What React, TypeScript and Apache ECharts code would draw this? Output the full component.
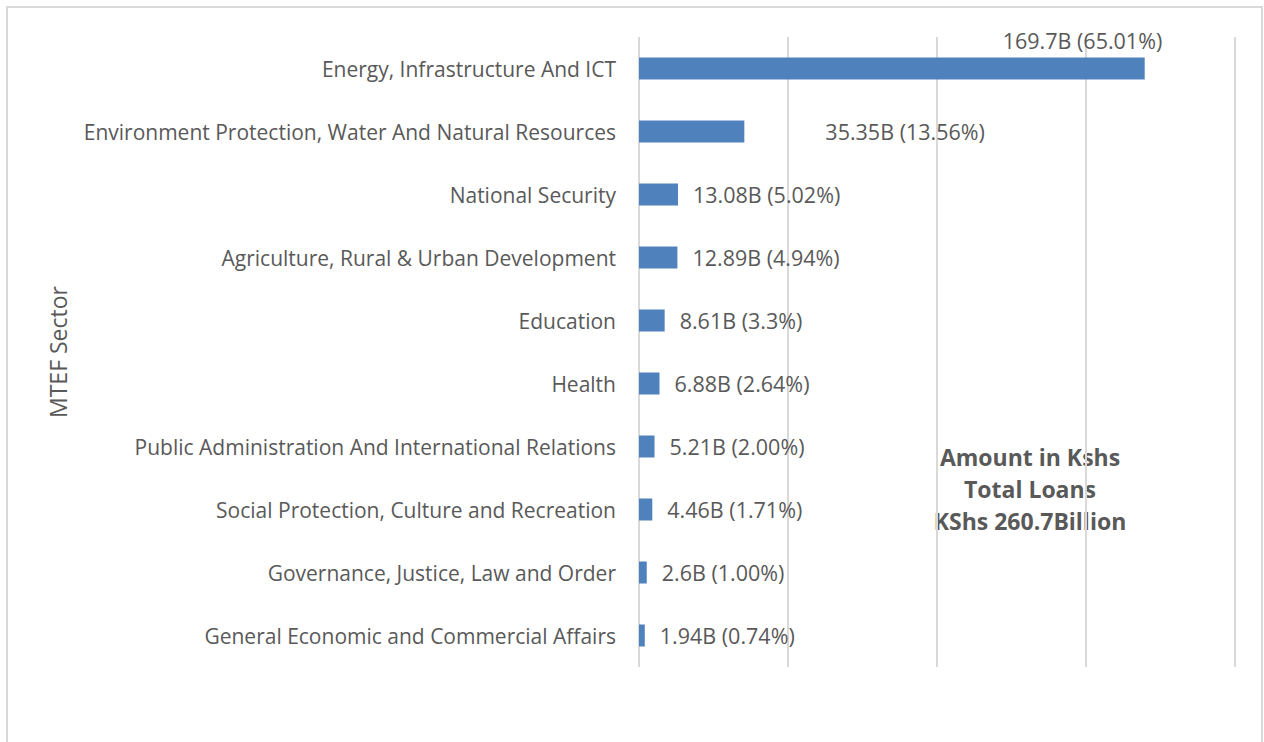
import React, { useEffect, useRef } from "react";
import * as echarts from "echarts";

const categories = [
  "Energy, Infrastructure And ICT",
  "Environment Protection, Water And Natural Resources",
  "National Security",
  "Agriculture, Rural & Urban Development",
  "Education",
  "Health",
  "Public Administration And International Relations",
  "Social Protection, Culture and Recreation",
  "Governance, Justice, Law and Order",
  "General Economic and Commercial Affairs",
];
const values = [169.7, 35.35, 13.08, 12.89, 8.61, 6.88, 5.21, 4.46, 2.6, 1.94];
const percents = ["65.01%", "13.56%", "5.02%", "4.94%", "3.3%", "2.64%", "2.00%", "1.71%", "1.00%", "0.74%"];
const annotationLines = ["Amount in Kshs", "Total Loans", "KShs 260.7Billion"];

const FONT = "'Open Sans', 'Noto Sans', sans-serif";
const GRAY = "#595959";

export default function App() {
  const ref = useRef<HTMLDivElement>(null);
  useEffect(() => {
    if (!ref.current) return;
    const chart = echarts.init(ref.current, undefined, { renderer: "svg" });
    const labelOffsets: Record<number, number[]> = { 0: [-157, -28], 1: [66, 0] };
    const data = values.map((v, i) => ({
      value: v,
      label: labelOffsets[i] ? { offset: labelOffsets[i] } : undefined,
    }));
    chart.setOption({
      animation: false,
      backgroundColor: "#ffffff",
      grid: { left: 639, right: 1264 - 1235, top: 37, bottom: 742 - 667, containLabel: false },
      xAxis: {
        type: "value",
        min: 0,
        max: 200,
        interval: 50,
        axisLabel: { show: false },
        axisLine: { show: false },
        axisTick: { show: false },
        splitLine: { show: true, lineStyle: { color: "#d9d9d9", width: 2 } },
      },
      yAxis: {
        type: "category",
        data: categories,
        inverse: true,
        name: "MTEF Sector",
        nameLocation: "middle",
        nameGap: 570,
        nameRotate: 90,
        nameTextStyle: { fontFamily: FONT, fontSize: 23, color: GRAY },
        axisLine: { show: false },
        axisTick: { show: false },
        axisLabel: { margin: 23, fontFamily: FONT, fontSize: 21, color: GRAY },
      },
      series: [
        {
          type: "bar",
          data,
          barWidth: 22,
          itemStyle: { color: "#4F81BD" },
          label: {
            show: true,
            position: "right",
            distance: 15,
            fontFamily: FONT,
            fontSize: 21.5,
            color: GRAY,
            formatter: (p: any) => `${p.value}B (${percents[p.dataIndex]})`,
          },
        },
      ],
      graphic: [
        {
          type: "rect",
          shape: { x: 7, y: 7, width: 1255, height: 760 },
          style: { fill: "none", stroke: "#d9d9d9", lineWidth: 2 },
          silent: true,
        },
        ...annotationLines.map((t, i) => ({
          type: "text",
          x: 1030,
          y: 457 + i * 32,
          style: {
            text: t,
            fontFamily: FONT,
            fontSize: 23,
            fontWeight: "bold",
            fill: GRAY,
            align: "center",
            verticalAlign: "middle",
          },
        })),
      ],
    });
    return () => chart.dispose();
  }, []);
  return <div ref={ref} style={{ position: "fixed", left: 0, top: 0, width: 1264, height: 742 }} />;
}
